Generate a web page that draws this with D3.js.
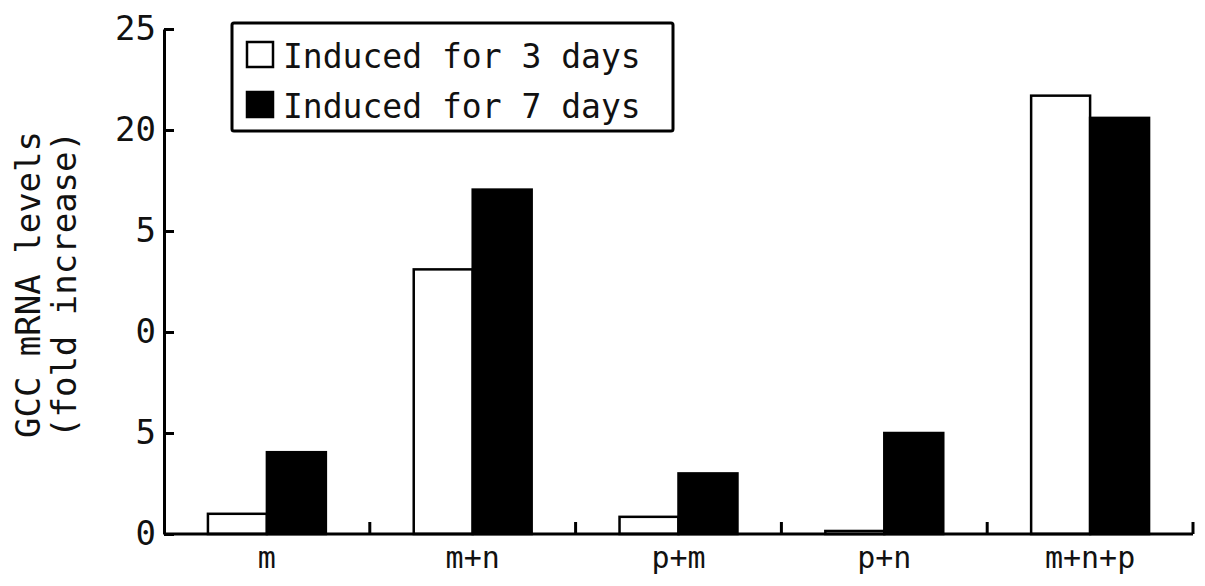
<!DOCTYPE html>
<html>
<head>
<meta charset="utf-8">
<script src="https://cdnjs.cloudflare.com/ajax/libs/d3/7.8.5/d3.min.js"></script>
<style>
  body { margin: 0; background: #fff; }
  text { font-family: "DejaVu Sans Mono", "Liberation Mono", monospace; fill: #111; }
</style>
</head>
<body>
<div id="chart"></div>
<script>
// chart values
var categories = ["m", "m+n", "p+m", "p+n", "m+n+p"];
var days3 = [1.0, 13.1, 0.85, 0.15, 21.7];
var days7 = [4.05, 17.05, 3.0, 5.0, 20.6];
var seriesNames = ["Induced for 3 days", "Induced for 7 days"];
var yTickValues = [0, 5, 10, 15, 20, 25];
var yTickLabels = ["0", "5", "0", "5", "20", "25"]; // as printed (leading 1 lost)

var W = 1205, H = 586;
var margin = {top: 29, right: 12, bottom: 52, left: 164};
var width = W - margin.left - margin.right,
    height = H - margin.top - margin.bottom;

var svg = d3.select("#chart")
  .append("svg")
    .attr("width", W)
    .attr("height", H)
  .append("g")
    .attr("transform", "translate(" + margin.left + "," + margin.top + ")");

// scales
var x = d3.scaleBand()
    .domain(categories)
    .range([0, width])
    .paddingInner(0)
    .paddingOuter(0);

var xSub = d3.scaleBand()
    .domain([0, 1])
    .range([0, x.bandwidth()])
    .paddingInner(0)
    .paddingOuter(0.745);

var y = d3.scaleLinear()
    .domain([0, 25])
    .range([height, 0]);

// bars
var rows = categories.map(function(c, i) { return {cat: c, vals: [days3[i], days7[i]]}; });
var fills = ["#fff", "#000"];

svg.append("g")
  .selectAll("g")
  .data(rows)
  .enter().append("g")
    .attr("transform", function(d) { return "translate(" + x(d.cat) + ",0)"; })
  .selectAll("rect")
  .data(function(d) { return d.vals.map(function(v, k) { return {k: k, v: v}; }); })
  .enter().append("rect")
    .attr("x", function(d) { return xSub(d.k); })
    .attr("y", function(d) { return y(d.v); })
    .attr("width", xSub.bandwidth())
    .attr("height", function(d) { return height - y(d.v); })
    .attr("fill", function(d) { return fills[d.k]; })
    .attr("stroke", "#000")
    .attr("stroke-width", 2.5);

// y axis, ticks pointing inward
var yAxis = svg.append("g")
    .call(d3.axisLeft(y)
      .tickValues(yTickValues)
      .tickFormat(function(d, i) { return yTickLabels[i]; })
      .tickSizeInner(-10)
      .tickSizeOuter(0)
      .tickPadding(8));
yAxis.select(".domain").attr("stroke", "#000").attr("stroke-width", 3);
yAxis.selectAll(".tick line").attr("stroke", "#000").attr("stroke-width", 3);
yAxis.selectAll(".tick text")
    .style("font-size", "34px")
    .attr("fill", "#111");

// x axis, category boundary ticks pointing up
svg.append("line")
    .attr("x1", 0).attr("x2", width)
    .attr("y1", height).attr("y2", height)
    .attr("stroke", "#000").attr("stroke-width", 3);

svg.append("g")
  .selectAll("line")
  .data(categories)
  .enter().append("line")
    .attr("x1", function(d) { return x(d) + x.bandwidth(); })
    .attr("x2", function(d) { return x(d) + x.bandwidth(); })
    .attr("y1", height)
    .attr("y2", height - 12)
    .attr("stroke", "#000").attr("stroke-width", 3);

svg.append("g")
  .selectAll("text")
  .data(categories)
  .enter().append("text")
    .attr("x", function(d) { return x(d) + x.bandwidth() / 2; })
    .attr("y", height + 34)
    .attr("text-anchor", "middle")
    .style("font-size", "30px")
    .text(function(d) { return d; });

// y axis title
var title = svg.append("text")
    .attr("transform", "translate(" + (-margin.left + 40) + "," + (height / 2 + 3) + ")rotate(-90)")
    .attr("text-anchor", "middle")
    .style("font-size", "34px");
title.append("tspan").attr("x", 0).attr("dy", 0).text("GCC mRNA levels");
title.append("tspan").attr("x", 0).attr("dy", 36).text("(fold increase)");

// legend
var legend = svg.append("g")
    .attr("transform", "translate(" + (232 - margin.left) + "," + (23 - margin.top) + ")");
legend.append("rect")
    .attr("width", 441)
    .attr("height", 108)
    .attr("fill", "#fff")
    .attr("stroke", "#000")
    .attr("stroke-width", 3)
    .attr("rx", 2);

var item = legend.selectAll(".legend")
    .data(seriesNames)
    .enter().append("g")
    .attr("class", "legend")
    .attr("transform", function(d, i) { return "translate(15," + (19 + i * 50) + ")"; });

item.append("rect")
    .attr("width", 26)
    .attr("height", 25)
    .attr("fill", function(d, i) { return fills[i]; })
    .attr("stroke", "#000")
    .attr("stroke-width", 2.5);

item.append("text")
    .attr("x", 36)
    .attr("y", 26)
    .style("font-size", "33px")
    .text(function(d) { return d; });
</script>
</body>
</html>
